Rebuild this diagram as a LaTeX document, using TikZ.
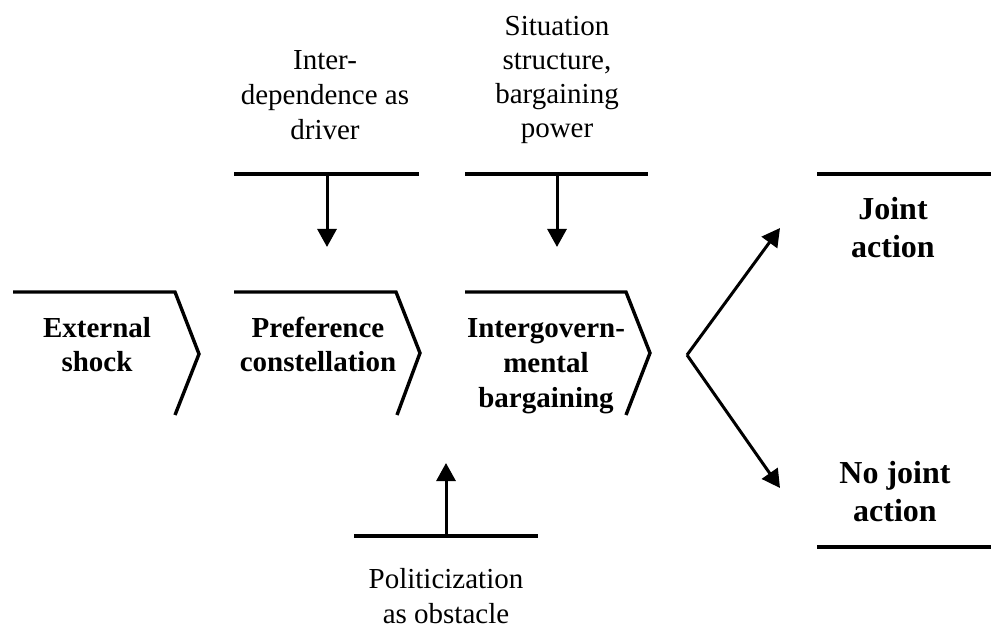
\documentclass[tikz,border=0pt]{standalone}
\usepackage{fontspec}
\setmainfont{Liberation Serif}
\usetikzlibrary{arrows.meta}
\tikzset{
  bar/.style={line width=3.6pt},
  chev/.style={line width=3.4pt, line join=miter},
  arr/.style={line width=3pt, -{Triangle[length=18pt,width=19pt]}},
  lbl/.style={inner sep=0pt, align=center, anchor=center},
}
\newcommand{\fnA}{\fontsize{29}{35}\selectfont}
\newcommand{\fnB}{\fontsize{29}{34}\selectfont}
\newcommand{\fnC}{\fontsize{32}{38}\selectfont}
\begin{document}
\begin{tikzpicture}[x=1pt,y=-1pt]
\useasboundingbox (0,0) rectangle (991,628);
% chevrons
\draw[chev] (13,292) -- (175,292) -- (199,354) -- (175,415);
\draw[chev] (234,292) -- (396,292) -- (420,353) -- (397,415);
\draw[chev] (465,292) -- (626,292) -- (650,353) -- (626,415);
% bars
\draw[bar] (234,174) -- (419,174);
\draw[bar] (465,174) -- (648,174);
\draw[bar] (354,536) -- (538,536);
\draw[bar] (817,174) -- (991,174);
\draw[bar] (817,547) -- (991,547);
% labels
\node[lbl, font=\fnA] (inter) at (325,98) {\strut Inter-\\\strut dependence as\\\strut driver};
\node[lbl, font=\fnB] (sit) at (557,80) {\strut Situation\\\strut structure,\\\strut bargaining\\\strut power};
\node[lbl, font=\fnA\bfseries] (ext) at (97,347.5) {\strut External\\\strut shock};
\node[lbl, font=\fnA\bfseries] (pref) at (318,347.5) {\strut Preference\\\strut constellation};
\node[lbl, font=\fnA\bfseries] (igb) at (546,365.5) {\strut Intergovern-\\\strut mental\\\strut bargaining};
\node[lbl, font=\fnC\bfseries] (joint) at (893,230.5) {\strut Joint\\\strut action};
\node[lbl, font=\fnC\bfseries] (nojoint) at (895,495) {\strut No joint\\\strut action};
\node[lbl, font=\fnA] (pol) at (446,598.5) {\strut Politicization\\\strut as obstacle};
% connector coordinates
\coordinate (b1) at (327,174);
\coordinate (t1) at (327,247);
\coordinate (b2) at (557,174);
\coordinate (t2) at (557,247);
\coordinate (b3) at (446,536);
\coordinate (t3) at (446,463);
\coordinate (v) at (687,355);
\coordinate (tj) at (780,228);
\coordinate (tn) at (780,488);
% arrows
\draw[arr] (b1) -- (t1);
\draw[arr] (b2) -- (t2);
\draw[arr] (b3) -- (t3);
\draw[arr] (v) -- (tj);
\draw[arr] (v) -- (tn);
\end{tikzpicture}
\end{document}
